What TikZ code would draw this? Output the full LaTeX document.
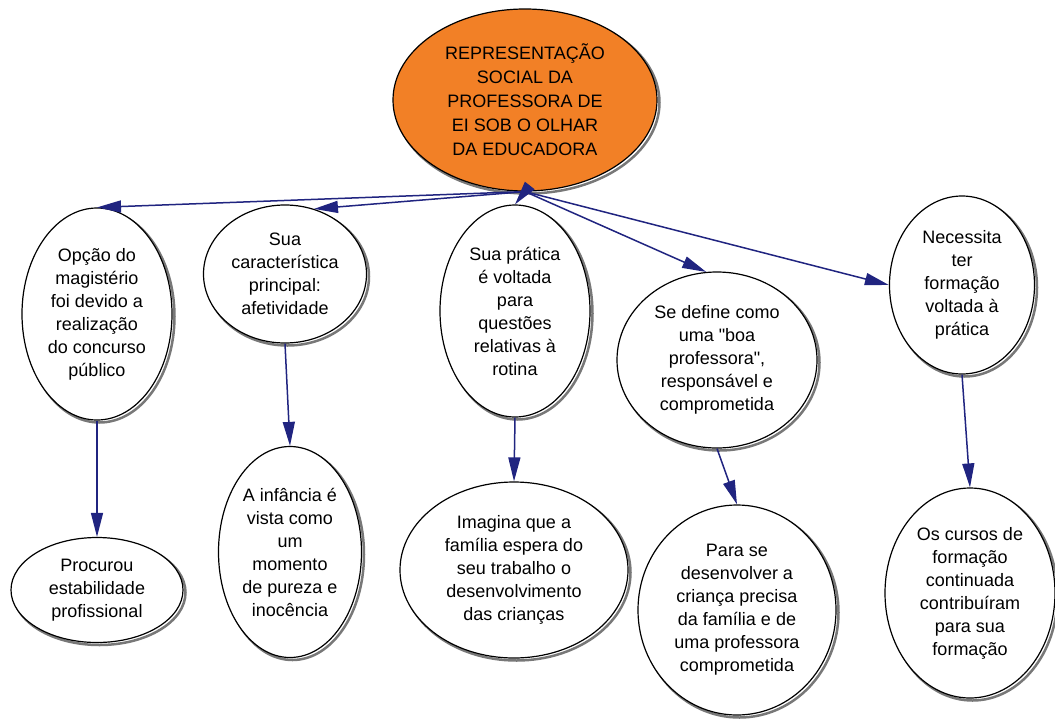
\documentclass[tikz,border=0pt]{standalone}
\usepackage{fontspec}
\setmainfont[Ligatures=TeXOff]{Liberation Sans}
\usetikzlibrary{shapes.geometric,arrows.meta}

\definecolor{laranja}{RGB}{242,128,38}
\definecolor{azul}{RGB}{32,36,128}
\definecolor{sombra}{RGB}{120,120,120}

\begin{document}
\begin{tikzpicture}[x=1pt,y=-1pt,
      conceito/.style={ellipse,draw=black,line width=1.2pt,fill=white,inner sep=0pt,
        align=center,font=\fontsize{18}{23}\selectfont,
        preaction={draw=sombra,line width=2.5pt,transform canvas={xshift=2.5pt,yshift=-2.5pt}}},
      seta/.style={draw=azul,line width=1.5pt,-{Triangle[length=24pt,width=12pt]}}]
%      \draw[help lines,step=50] (0,0) grid (1055,718);
      \useasboundingbox (0,0) rectangle (1055,718);

      \node[conceito,fill=laranja,minimum width=264,minimum height=182,
        font=\fontsize{18}{24}\selectfont] (raiz) at (525,100)
        {REPRESENTAÇÃO\\SOCIAL DA\\PROFESSORA DE\\EI SOB O OLHAR\\DA EDUCADORA};

      % primeira fila
      \node[conceito,minimum width=150,minimum height=212] (opcao) at (97,314)
        {Opção do\\magistério\\foi devido a\\realização\\do concurso\\público};
      \node[conceito,minimum width=163,minimum height=138] (caracteristica) at (285,274)
        {Sua\\característica\\principal:\\afetividade};
      \node[conceito,minimum width=150,minimum height=212] (pratica) at (515,311)
        {Sua prática\\é voltada\\para\\questões\\relativas à\\rotina};
      \node[conceito,minimum width=200,minimum height=176] (define) at (717,360)
        {Se define como\\uma "boa\\professora",\\responsável e\\comprometida};
      \node[conceito,minimum width=145,minimum height=178] (necessita) at (962,285)
        {Necessita\\ter\\formação\\voltada à\\prática};

      % segunda fila
      \node[conceito,minimum width=172,minimum height=105] (procurou) at (97,590)
        {Procurou\\estabilidade\\profissional};
      \node[conceito,minimum width=143,minimum height=211] (infancia) at (290,552)
        {A infância é\\vista como\\um\\momento\\de pureza e\\inocência};
      \node[conceito,minimum width=228,minimum height=176] (imagina) at (514,570)
        {Imagina que a\\família espera do\\seu trabalho o\\desenvolvimento\\das crianças};
      \node[conceito,minimum width=198,minimum height=210] (desenvolver) at (737,610)
        {Para se\\desenvolver a\\criança precisa\\da família e de\\uma professora\\comprometida};
      \node[conceito,minimum width=170,minimum height=210] (cursos) at (970,593)
        {Os cursos de\\formação\\continuada\\contribuíram\\para sua\\formação};

      \draw[seta] (raiz.south) -- (opcao.north);
      \draw[seta] (raiz.south) -- (caracteristica.66);
      \draw[seta] (raiz.south) -- (pratica.north);
      \draw[seta] (raiz.south) -- (define.97);
      \draw[seta] (raiz.south) -- (necessita.west);

      \draw[seta] (opcao.south) -- (procurou.north);
      \draw[seta] (caracteristica.south) -- (infancia.north);
      \draw[seta] (pratica.south) -- (imagina.north);
      \draw[seta] (define.south) -- (desenvolver.north);
      \draw[seta] (necessita.south) -- (cursos.north);
    \end{tikzpicture}
\end{document}
